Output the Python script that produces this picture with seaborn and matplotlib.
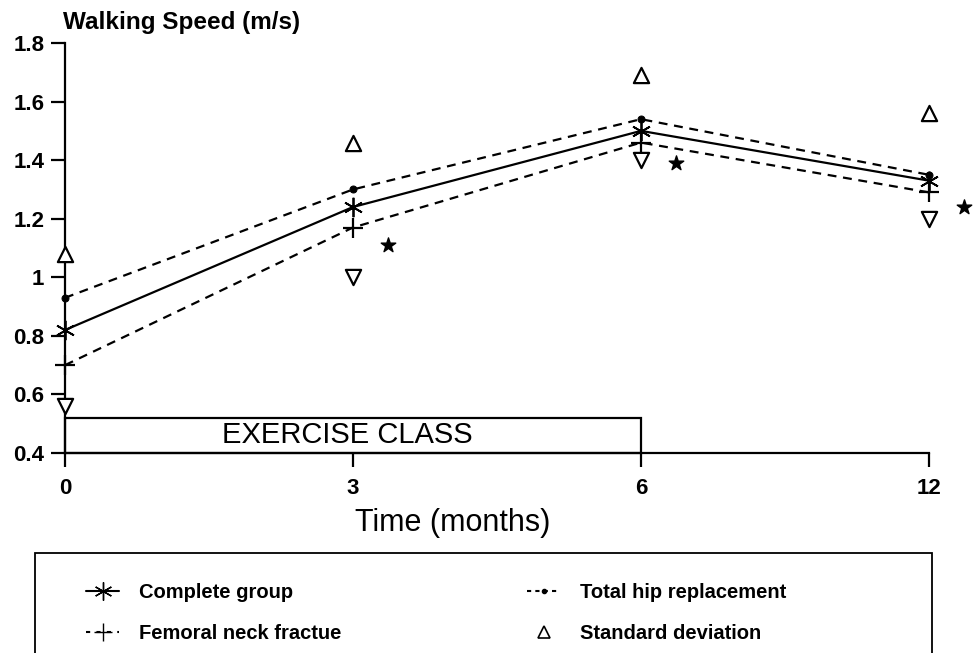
import numpy as np
import pandas as pd
import seaborn as sns
import matplotlib.pyplot as plt
from matplotlib.lines import Line2D
from matplotlib.patches import Rectangle

# data
months = ["0", "3", "6", "12"]
complete_group = [0.82, 1.24, 1.50, 1.33]
total_hip = [0.93, 1.30, 1.54, 1.35]
femoral_neck = [0.70, 1.17, 1.46, 1.29]
sd_upper = [1.08, 1.46, 1.69, 1.56]
sd_lower = [0.56, 1.00, 1.40, 1.20]
sig_months = ["3", "6", "12"]
sig_y = [1.11, 1.39, 1.24]
exercise_start, exercise_end = "0", "6"
exercise_top = 0.52

pos = np.arange(len(months))
df = pd.DataFrame({"pos": pos, "complete": complete_group, "thr": total_hip,
                   "fnf": femoral_neck, "up": sd_upper, "low": sd_lower})

sns.set_theme(style="white")
plt.rcParams['font.family'] = ['Liberation Sans', 'DejaVu Sans']
plt.rcParams.update({"text.color": "black", "axes.labelcolor": "black",
                     "xtick.color": "black", "ytick.color": "black"})

fig = plt.figure(figsize=(9.76, 6.53), dpi=100)
ax = fig.add_axes([0.0666, 0.3063, 0.8852, 0.6278])

asterisk = (6, 2, 0)
sns.lineplot(data=df, x="pos", y="complete", ax=ax, color="black", lw=1.6,
             marker=asterisk, markersize=14, markeredgewidth=1.3,
             markeredgecolor="black", clip_on=False)
sns.lineplot(data=df, x="pos", y="thr", ax=ax, color="black", lw=1.6,
             linestyle=(0, (4, 3)), marker="o", markersize=5,
             markeredgecolor="black", clip_on=False)
sns.lineplot(data=df, x="pos", y="fnf", ax=ax, color="black", lw=1.6,
             linestyle=(0, (4, 3)), marker="+", markersize=15, markeredgewidth=1.6,
             markeredgecolor="black", clip_on=False)
sns.scatterplot(data=df, x="pos", y="up", ax=ax, marker="^", s=120,
                facecolor="white", edgecolor="black", linewidth=1.6, clip_on=False,
                zorder=4)
sns.scatterplot(data=df, x="pos", y="low", ax=ax, marker="v", s=120,
                facecolor="white", edgecolor="black", linewidth=1.6, clip_on=False,
                zorder=4)

# significance stars
sig_x = [months.index(m) + 0.12 for m in sig_months]
ax.scatter(sig_x, sig_y, marker="*", s=120, color="black", clip_on=False, zorder=5)

# exercise class bar
x0, x1 = months.index(exercise_start), months.index(exercise_end)
ax.add_patch(Rectangle((x0, 0.4), x1 - x0, exercise_top - 0.4, fill=False,
                       edgecolor="black", lw=1.6, clip_on=False))
ax.text((x0 + x1) / 2 - 0.02, (0.4 + exercise_top) / 2, "EXERCISE CLASS",
        ha="center", va="center", fontsize=21)

ax.set_xlim(0, 3)
ax.set_ylim(0.4, 1.8)
ax.set_xticks(pos)
ax.set_xticklabels(months)
yt = np.arange(0.4, 1.81, 0.2)
ax.set_yticks(yt)
ax.set_yticklabels([f"{v:g}" for v in np.round(yt, 1)])
ax.tick_params(axis="both", direction="out", length=10, width=1.6, labelsize=16,
               left=True, bottom=True, colors="black")
ax.tick_params(axis="y", pad=5)
ax.tick_params(axis="x", pad=8)
for lab in ax.get_xticklabels() + ax.get_yticklabels():
    lab.set_fontweight("bold")
sns.despine(ax=ax)
for s in ["left", "bottom"]:
    ax.spines[s].set_linewidth(1.6)
    ax.spines[s].set_color("black")
ax.set_xlabel("Time (months)", fontsize=22)
ax.xaxis.set_label_coords(0.449, -0.135)
ax.set_ylabel("")
fig.text(0.065, 0.965, "Walking Speed (m/s)", fontsize=17.5, fontweight="bold",
         ha="left", va="center")

# legend box
fig.patches.append(Rectangle((0.036, -0.05), 0.919, 0.203, transform=fig.transFigure,
                             fill=False, edgecolor="black", lw=1.3))
handles = [
    Line2D([], [], color="black", lw=1.5, marker=asterisk, markersize=13),
    Line2D([], [], color="black", lw=1.5, linestyle=(0, (2, 3)), marker="+", markersize=13),
    Line2D([], [], color="black", lw=1.5, linestyle=(0, (2, 2)), marker="o", markersize=3),
    Line2D([], [], color="black", lw=0, marker="^", markersize=9,
           markerfacecolor="white", markeredgewidth=1.2),
]
labels = ["Complete group", "Femoral neck fractue", "Total hip replacement",
          "Standard deviation"]
fig.legend(handles, labels, ncol=2, loc="upper left", bbox_to_anchor=(0.07, 0.135),
           frameon=False, prop={"weight": "bold", "size": 14.5}, handlelength=1.6,
           handletextpad=1.0, columnspacing=9.25, labelspacing=1.1)

fig.savefig("out.png", dpi=100)
